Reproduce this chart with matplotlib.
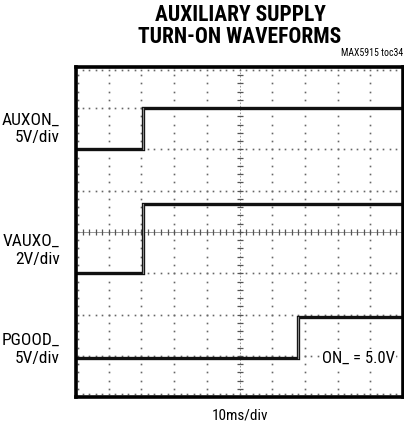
import matplotlib
matplotlib.use("Agg")
import matplotlib.pyplot as plt
import numpy as np
from matplotlib import font_manager

names = {f.name for f in font_manager.fontManager.ttflist}
cond = [n for n in ["Liberation Sans Narrow", "Roboto Condensed", "Roboto", "Liberation Sans"] if n in names]
FONT = cond + ["DejaVu Sans"]

# Data (time in ms, level in screen divisions from bottom)
title = "AUXILIARY SUPPLY\nTURN-ON WAVEFORMS"
auxon_t = [0, 20.5, 20.5, 100]
auxon_v = [6.0, 6.0, 7.0, 7.0]
vauxo_t = [0, 20.6, 20.6, 100]
vauxo_v = [3.0, 3.0, 4.67, 4.67]
pgood_t = [0, 67.8, 67.8, 100]
pgood_v = [0.94, 0.94, 1.94, 1.94]
ch_labels = [("AUXON_\n5V/div", 6.5), ("VAUXO_\n2V/div", 3.55), ("PGOOD_\n5V/div", 1.15)]

fig = plt.figure(figsize=(4.04, 4.29), dpi=100)
ax = fig.add_axes([76/404, 1-397/429, 327/404, 330/429])
ax.set_xlim(0, 100)
ax.set_ylim(0, 8)

DOT = "#666666"
# dotted grid
for gx in np.arange(10, 100, 10):
    if gx == 50:
        continue
    ys = np.arange(0, 8.001, 0.2)
    ax.plot(np.full_like(ys, gx), ys, ls="none", marker="s", ms=1.2, color=DOT, mec="none")
for gy in np.arange(1, 8, 1):
    if gy == 4:
        continue
    xs = np.arange(0, 100.001, 2)
    ax.plot(xs, np.full_like(xs, gy), ls="none", marker="s", ms=1.2, color=DOT, mec="none")
# center crosshair
ax.axvline(50, color="#888888", lw=0.6, ls=(0, (2, 2)))
ax.axhline(4, color="#888888", lw=0.6)
ys = np.arange(0, 8.001, 0.2)
ax.plot(np.full_like(ys, 50), ys, ls="none", marker="_", ms=5, mew=0.9, color="#555555")
xs = np.arange(0, 100.001, 2)
ax.plot(xs, np.full_like(xs, 4), ls="none", marker="|", ms=5, mew=0.9, color="#555555")
# edge tick dots
ax.plot(xs, np.full_like(xs, 7.93), ls="none", marker="s", ms=1.2, color=DOT, mec="none")
ax.plot(xs, np.full_like(xs, 0.07), ls="none", marker="s", ms=1.2, color=DOT, mec="none")
ax.plot(np.full_like(ys, 0.6), ys, ls="none", marker="s", ms=1.2, color=DOT, mec="none")

# traces
for t, v in [(auxon_t, auxon_v), (vauxo_t, vauxo_v), (pgood_t, pgood_v)]:
    ax.plot(t, v, color="#111111", lw=2.4, solid_joinstyle="miter")
    ax.plot(t[1:3], v[1:3], color="#888888", lw=0.8)

ax.set_xticks([]); ax.set_yticks([])
for s in ax.spines.values():
    s.set_linewidth(2.6)
    s.set_color("black")

ax.text(97.5, 0.95, "ON_ = 5.0V", ha="right", va="center", fontsize=12, family=FONT,
        bbox=dict(facecolor="white", edgecolor="none", pad=1))

for txt, y in ch_labels:
    ax.text(-5, y, txt, ha="right", va="center", fontsize=12.5, family=FONT,
            multialignment="right", linespacing=1.25, transform=ax.transData, clip_on=False)

fig.text(240/404, 1-26/429, title, ha="center", va="center", fontsize=15.5,
         fontweight="bold", family=FONT, linespacing=1.05)
fig.text(403/404, 1-53/429, "MAX5915 toc34", ha="right", va="center", fontsize=7, family=FONT)
fig.text(240/404, 1-415/429, "10ms/div", ha="center", va="center", fontsize=11, family=FONT)

fig.savefig("out.png", dpi=100)
